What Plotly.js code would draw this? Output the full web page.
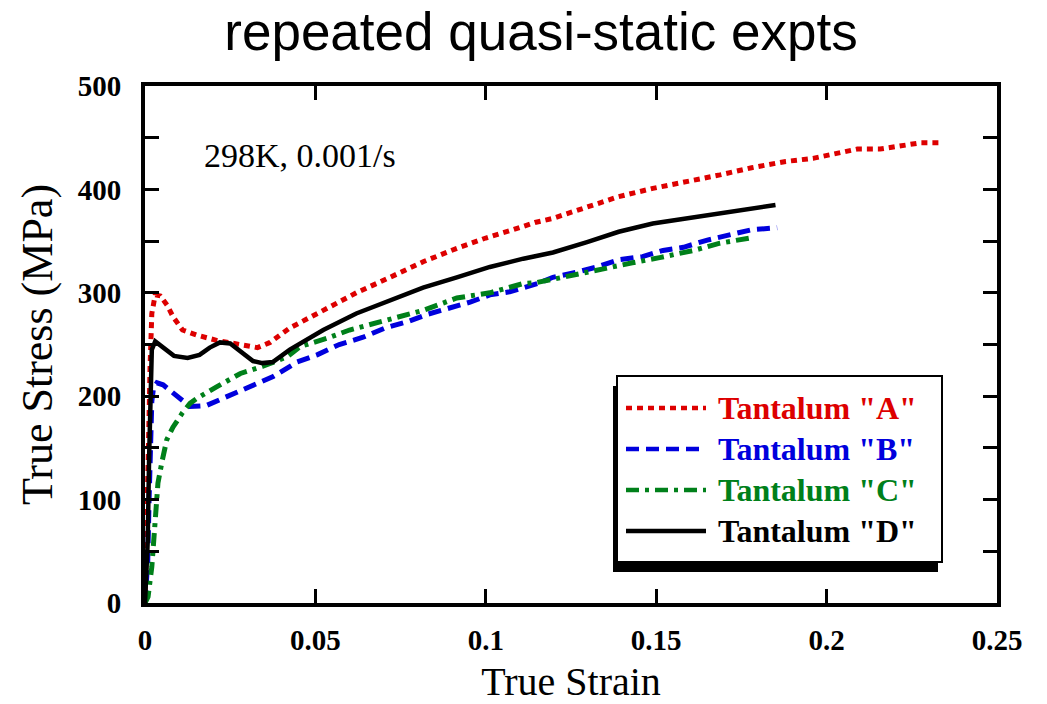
<!DOCTYPE html>
<html>
<head>
<meta charset="utf-8">
<script src="https://cdn.plot.ly/plotly-3.0.1.min.js"></script>
<style>
  html, body { margin: 0; padding: 0; background: #fff; }
  #chart { width: 1047px; height: 704px; }
</style>
</head>
<body>
<div id="chart"></div>
<script>
// Quasi-static tension tests on tantalum, 298 K, strain rate 0.001/s
const seriesNames = ['Tantalum "A"', 'Tantalum "B"', 'Tantalum "C"', 'Tantalum "D"'];
const seriesColors = ['#dd0000', '#0000dd', '#00801a', '#000000'];
const seriesDash = ['6px,5px', '13px,7px', '13px,6px,4px,6px', 'solid'];

const strainA = [0, 0.0005, 0.001, 0.0015, 0.002, 0.003, 0.0045, 0.0065, 0.0082, 0.011, 0.0153, 0.021, 0.027, 0.033, 0.0367, 0.0425, 0.0523, 0.062, 0.0719, 0.0816, 0.0915, 0.100, 0.108, 0.1144, 0.1197, 0.1297, 0.139, 0.149, 0.159, 0.1687, 0.178, 0.188, 0.196, 0.204, 0.209, 0.2157, 0.2236, 0.2274, 0.2339];
const stressA = [0, 60, 150, 230, 280, 298, 297, 288, 277, 264, 259, 254, 250, 247, 252, 266, 283, 300, 315, 330, 343, 353, 361, 368, 372, 383, 393, 401, 407, 414, 421, 427, 430, 436, 439, 439, 443, 445, 445];

const strainB = [0, 0.0008, 0.0012, 0.0016, 0.002, 0.0025, 0.0035, 0.0053, 0.0075, 0.0105, 0.0132, 0.018, 0.025, 0.028, 0.0317, 0.0376, 0.0446, 0.0505, 0.057, 0.064, 0.0705, 0.077, 0.0827, 0.0895, 0.0954, 0.1012, 0.107, 0.1153, 0.1197, 0.1268, 0.1326, 0.139, 0.146, 0.152, 0.158, 0.165, 0.1717, 0.178, 0.1855];
const stressB = [0, 40, 100, 160, 195, 208, 213, 211, 205, 196, 190, 191, 201, 206, 211, 219, 233, 240, 250, 257, 266, 272, 279, 285, 291, 298, 301, 309, 315, 320, 325, 332, 335, 341, 344, 351, 356, 361, 363];

const strainC = [0, 0.0009, 0.002, 0.003, 0.0038, 0.005, 0.0064, 0.0082, 0.0094, 0.011, 0.0132, 0.0153, 0.021, 0.028, 0.0346, 0.0417, 0.0455, 0.0534, 0.060, 0.0719, 0.0816, 0.0915, 0.1012, 0.111, 0.115, 0.1226, 0.1297, 0.136, 0.143, 0.151, 0.161, 0.1687, 0.1775];
const stressC = [0, 6, 35, 73, 116, 137, 158, 170, 177, 184, 193, 198, 209, 222, 229, 238, 248, 256, 264, 274, 283, 295, 300, 309, 310, 315, 320, 325, 329, 334, 341, 348, 353];

const strainD = [0, 0.0008, 0.0012, 0.0016, 0.002, 0.003, 0.0055, 0.0085, 0.0125, 0.016, 0.019, 0.022, 0.025, 0.028, 0.0317, 0.0345, 0.0375, 0.0425, 0.0523, 0.062, 0.0719, 0.0816, 0.0915, 0.1012, 0.111, 0.1197, 0.1297, 0.139, 0.149, 0.159, 0.1687, 0.178, 0.185];
const stressD = [0, 60, 140, 215, 245, 253, 247, 239, 237, 240, 247, 252, 251, 243, 234, 232, 233, 245, 264, 280, 293, 305, 315, 325, 333, 339, 349, 359, 367, 372, 377, 382, 385];

const xTickVals = [0, 0.05, 0.1, 0.15, 0.2, 0.25];
const yTickVals = [0, 100, 200, 300, 400, 500];

const strains = [strainA, strainB, strainC, strainD];
const stresses = [stressA, stressB, stressC, stressD];

const W = 1047, H = 704;
const M = { l: 145, r: 50, t: 86, b: 101 };
const pw = W - M.l - M.r, ph = H - M.t - M.b;
const px = v => (v - M.l) / pw;          // page pixel -> paper x
const py = v => (H - M.b - v) / ph;      // page pixel -> paper y

const traces = strains.map((xs, i) => ({
  type: 'scatter',
  mode: 'lines',
  name: seriesNames[i],
  x: xs,
  y: stresses[i],
  showlegend: false,
  line: { color: seriesColors[i], width: i === 3 ? 4.5 : 5, dash: seriesDash[i] }
}));

// Boxed key with a drop shadow, lower right of the plot
const box = { x0: 617, x1: 942, y0: 376, y1: 562 };
const shapes = [
  { type: 'rect', xref: 'paper', yref: 'paper',
    x0: px(box.x0 - 4), x1: px(box.x1 - 4), y0: py(box.y1 + 10), y1: py(box.y0 + 10),
    fillcolor: '#000', line: { width: 0 } },
  { type: 'rect', xref: 'paper', yref: 'paper',
    x0: px(box.x0), x1: px(box.x1), y0: py(box.y1), y1: py(box.y0),
    fillcolor: '#fff', line: { color: '#000', width: 2 } }
];
const annotations = [];
const rowY = [408, 449, 490, 531];
seriesNames.forEach((name, i) => {
  shapes.push({ type: 'line', xref: 'paper', yref: 'paper',
    x0: px(626), x1: px(706), y0: py(rowY[i]), y1: py(rowY[i]),
    line: { color: seriesColors[i], width: 4.5, dash: seriesDash[i] } });
  annotations.push({ xref: 'paper', yref: 'paper', x: px(716), y: py(rowY[i]),
    xanchor: 'left', yanchor: 'middle', showarrow: false, text: name,
    font: { family: 'Liberation Serif', size: 32, weight: 'bold', color: seriesColors[i] } });
});
annotations.push({ xref: 'paper', yref: 'paper', x: px(202), y: py(155),
  xanchor: 'left', yanchor: 'middle', showarrow: false, text: '298K, 0.001/s',
  font: { family: 'Liberation Serif', size: 34, color: '#000' } });

const axisCommon = {
  showline: true, linecolor: '#000', linewidth: 4, mirror: 'ticks',
  ticks: 'inside', ticklen: 14, tickwidth: 3, tickcolor: '#000',
  showgrid: false, zeroline: false,
  tickfont: { family: 'Liberation Serif', size: 29, weight: 'bold', color: '#000' }
};

const layout = {
  width: W, height: H,
  margin: M,
  paper_bgcolor: '#fff', plot_bgcolor: '#fff',
  title: { text: 'repeated quasi-static expts', xref: 'container', yref: 'container',
    x: 541 / W, xanchor: 'center', y: 1 - 31 / H, yanchor: 'middle',
    font: { family: 'Liberation Sans', size: 53, color: '#000' } },
  xaxis: Object.assign({}, axisCommon, {
    range: [0, 0.25], tickvals: xTickVals, ticklabelstandoff: 8,
    title: { text: 'True Strain', standoff: 22,
      font: { family: 'Liberation Serif', size: 40, color: '#000' } }
  }),
  yaxis: Object.assign({}, axisCommon, {
    range: [0, 500], tickvals: yTickVals, ticklabelstandoff: 14,
    minor: { dtick: 50, ticks: 'inside', ticklen: 14, tickwidth: 3, tickcolor: '#000' },
    title: { text: 'True Stress (MPa)', standoff: 12,
      font: { family: 'Liberation Serif', size: 44, color: '#000' } }
  }),
  shapes: shapes,
  annotations: annotations,
  showlegend: false
};

Plotly.newPlot('chart', traces, layout, { displayModeBar: false, staticPlot: true });
</script>
</body>
</html>
